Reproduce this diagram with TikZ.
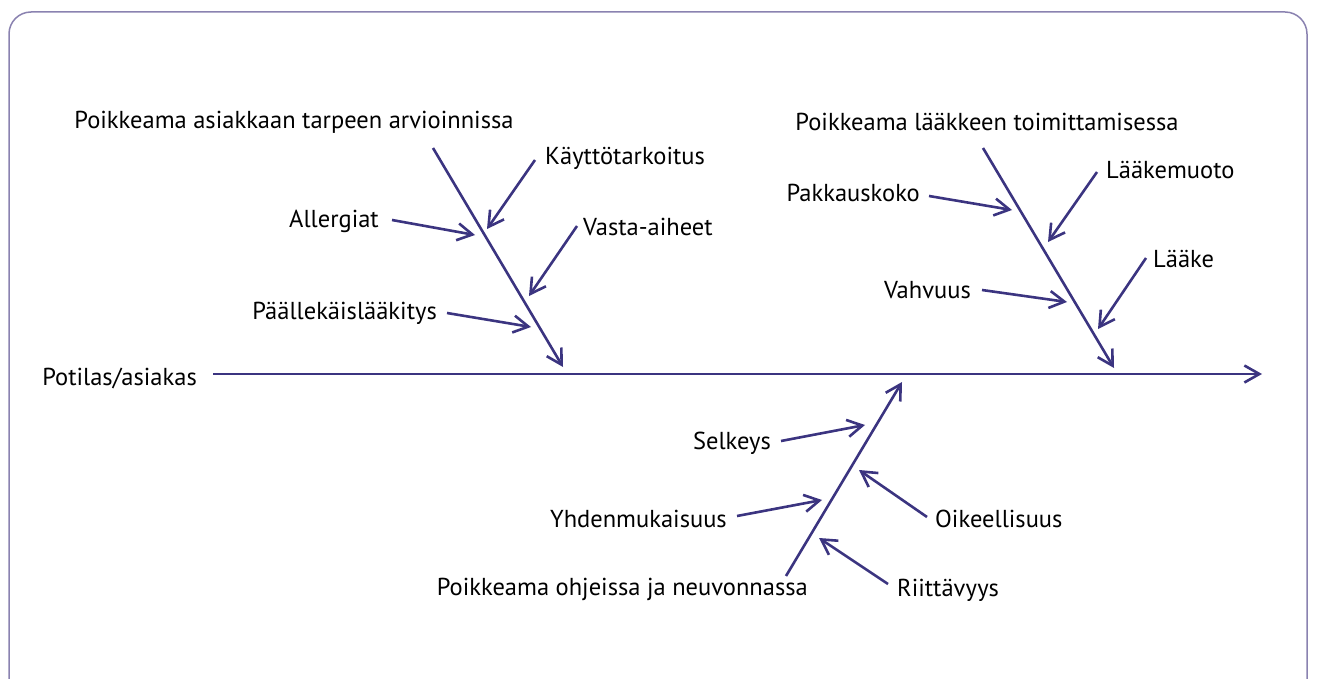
\documentclass[tikz,border=0pt]{standalone}
\usepackage{fontspec}
\setmainfont{PT Sans}
\usetikzlibrary{arrows.meta}
\definecolor{ink}{HTML}{3B3480}
\definecolor{frame}{HTML}{8A82B0}
\tikzset{
  bone/.style={draw=ink, line width=2.6pt, -{Straight Barb[length=15pt,width=17pt,line width=2.6pt]}},
  lbl/.style={inner sep=0pt, font=\fontsize{24.5}{26}\selectfont, text=black},
}
\begin{document}
\begin{tikzpicture}[x=1pt,y=-1pt]
\useasboundingbox (0,0) rectangle (1317,679);
\clip (0,0) rectangle (1317,679);
\draw[frame, line width=1.5pt, rounded corners=22pt] (9,12) rectangle (1307,720);

% labels
\node[lbl] (t1) at (294,122) {Poikkeama asiakkaan tarpeen arvioinnissa};
\node[lbl, anchor=west] (kt) at (545,158) {Käyttötarkoitus};
\node[lbl, anchor=east] (al) at (379,221) {Allergiat};
\node[lbl, anchor=west] (va) at (583,227) {Vasta-aiheet};
\node[lbl, anchor=east] (pl) at (437,313) {Päällekäislääkitys};
\node[lbl, anchor=east] (pa) at (197,378) {Potilas/asiakas};
\node[lbl] (t2) at (987,122) {Poikkeama lääkkeen toimittamisessa};
\node[lbl, anchor=west] (lm) at (1106,170) {Lääkemuoto};
\node[lbl, anchor=east] (pk) at (920,193) {Pakkauskoko};
\node[lbl, anchor=west] (la) at (1153,259) {Lääke};
\node[lbl, anchor=east] (vh) at (971,290) {Vahvuus};
\node[lbl, anchor=east] (se) at (771,443) {Selkeys};
\node[lbl, anchor=east] (yh) at (727,519) {Yhdenmukaisuus};
\node[lbl, anchor=west] (oi) at (935,519) {Oikeellisuus};
\node[lbl, anchor=east] (t3) at (808,589) {Poikkeama ohjeissa ja neuvonnassa};
\node[lbl, anchor=west] (ri) at (897,590) {Riittävyys};

% coordinates
\coordinate (sp0) at (213,374);  \coordinate (sp1) at (1262,374);
\coordinate (b1s) at (433,148);  \coordinate (b1e) at (563,367);
\coordinate (kts) at (535,160);  \coordinate (ktt) at (487,229);
\coordinate (als) at (392,220);  \coordinate (alt) at (475,235);
\coordinate (vas) at (577,226);  \coordinate (vat) at (529,296);
\coordinate (pls) at (447,313);  \coordinate (plt) at (531,327);
\coordinate (b2s) at (983,148);  \coordinate (b2e) at (1114,368);
\coordinate (lms) at (1097,172); \coordinate (lmt) at (1048,242);
\coordinate (pks) at (929,196);  \coordinate (pkt) at (1012,210);
\coordinate (vhs) at (982,290);  \coordinate (vht) at (1067,302);
\coordinate (las) at (1146,258); \coordinate (lat) at (1098,329);
\coordinate (b3s) at (786,576);  \coordinate (b3e) at (902,382);
\coordinate (ses) at (781,441);  \coordinate (set) at (865,425);
\coordinate (yhs) at (737,516);  \coordinate (yht) at (822,500);
\coordinate (ois) at (927,517);  \coordinate (oit) at (859,470);
\coordinate (ris) at (888,584);  \coordinate (rit) at (819,538);

\draw[bone] (sp0) -- (sp1);
\draw[bone] (b1s) -- (b1e);
\draw[bone] (kts) -- (ktt);
\draw[bone] (als) -- (alt);
\draw[bone] (vas) -- (vat);
\draw[bone] (pls) -- (plt);
\draw[bone] (b2s) -- (b2e);
\draw[bone] (lms) -- (lmt);
\draw[bone] (pks) -- (pkt);
\draw[bone] (vhs) -- (vht);
\draw[bone] (las) -- (lat);
\draw[bone] (b3s) -- (b3e);
\draw[bone] (ses) -- (set);
\draw[bone] (yhs) -- (yht);
\draw[bone] (ois) -- (oit);
\draw[bone] (ris) -- (rit);
\end{tikzpicture}
\end{document}
